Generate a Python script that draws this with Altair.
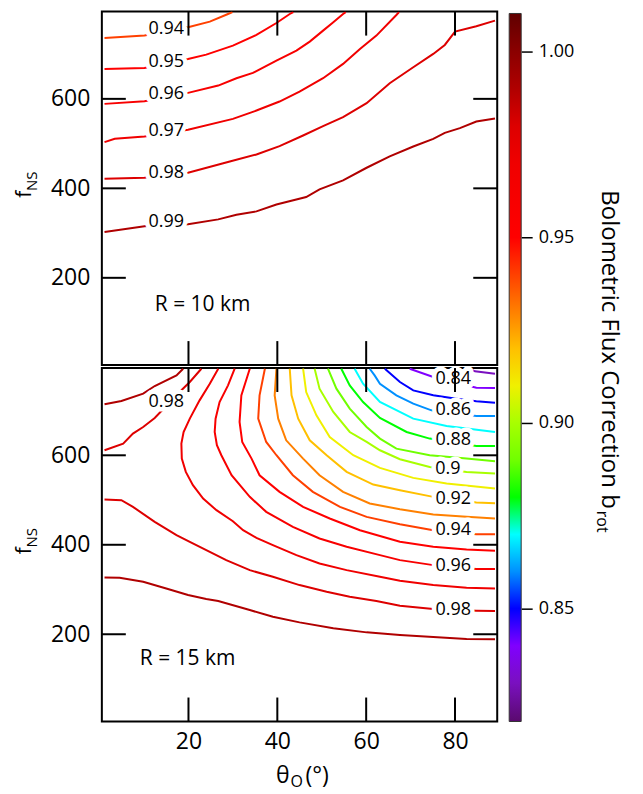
import altair as alt
import pandas as pd

# ---------------- axes ----------------
X_DOMAIN = [0.5, 89.5]
Y_DOMAIN = [5, 795]
X_TICKS = [20, 40, 60, 80]
Y_TICKS = [200, 400, 600]
CB_TICKS = [0.85, 0.90, 0.95, 1.00]
CB_DOMAIN = [0.8196, 1.0108]

# ---------------- colour map ----------------
CMAP_VALS = [0.8196, 0.83, 0.84, 0.85, 0.86, 0.87, 0.88, 0.89, 0.90, 0.91, 0.92,
             0.93, 0.94, 0.95, 0.97, 0.98, 0.99, 1.00, 1.0103]
CMAP_COLS = ["#5a0a6e", "#7a10c0", "#8000ff", "#0000ff", "#0090ff", "#00ffff",
             "#00ff00", "#70ff00", "#a8ff00", "#f0f000", "#ffc000", "#ff8000",
             "#ff4000", "#ff0000", "#f00000", "#dd0000", "#b00000", "#8b0000", "#600000"]

# ---------------- R = 10 km contours ----------------
r10_094_x = [1.1, 10.1, 19.9, 24.8, 28.9, 29.9]
r10_094_y = [736.1, 741.4, 760.0, 772.6, 789.7, 794.0]
r10_095_x = [1.1, 10.1, 19.9, 24.0, 30.0, 35.3, 39.8, 42.8, 43.6]
r10_095_y = [667.0, 669.2, 689.3, 698.9, 719.0, 742.8, 769.6, 789.7, 794.0]
r10_096_x = [1.1, 10.1, 19.9, 26.7, 30.8, 34.5, 39.8, 44.3, 47.3, 50.3, 52.6, 54.8, 55.4]
r10_096_y = [588.8, 594.8, 613.4, 629.7, 646.1, 658.0, 685.6, 707.9, 728.0, 752.5, 771.1, 789.7, 794.0]
r10_097_x = [1.1, 3.4, 10.1, 19.9, 30.0, 35.3, 40.5, 45.0, 50.3, 54.8, 58.6, 62.3, 66.8, 67.4]
r10_097_y = [503.3, 510.7, 515.9, 530.8, 555.3, 573.9, 594.0, 616.4, 646.1, 678.1, 711.6, 741.4, 787.5, 794.0]
r10_098_x = [1.1, 10.1, 19.9, 29.3, 35.3, 40.5, 45.8, 50.3, 54.8, 60.1, 65.3, 70.6, 75.1, 77.7, 80.0, 84.8, 89.0]
r10_098_y = [421.4, 423.6, 434.8, 460.1, 475.7, 494.3, 518.1, 539.0, 559.0, 590.3, 635.0, 670.7, 700.4, 720.5, 750.3, 762.2, 774.8]
r10_099_x = [1.1, 10.1, 19.9, 26.7, 30.8, 35.3, 39.8, 46.5, 49.5, 54.8, 60.1, 65.3, 70.6, 75.1, 77.7, 81.1, 84.8, 89.0]
r10_099_y = [302.4, 315.0, 319.5, 330.6, 341.0, 348.5, 364.0, 380.5, 397.6, 417.7, 446.0, 471.3, 493.6, 510.7, 524.0, 534.5, 549.4, 556.0]

r10_lab_text = ["0.94", "0.95", "0.96", "0.97", "0.98", "0.99"]
r10_lab_x = [15.0, 15.0, 15.0, 15.0, 15.0, 15.0]
r10_lab_y = [756.0, 682.0, 611.0, 529.0, 435.0, 325.0]

# ---------------- R = 15 km contours ----------------
r15_099_x = [1.1, 4.5, 9.8, 15.0, 19.9, 24.0, 26.7, 33.8, 39.0, 45.0, 52.6, 60.1, 67.6, 75.1, 82.6, 89.0]
r15_099_y = [327.0, 326.3, 317.3, 302.4, 287.6, 278.6, 274.2, 254.1, 239.2, 226.5, 213.2, 204.2, 198.3, 193.8, 189.3, 188.8]
r15_098_x = [1.1, 4.9, 7.5, 12.4, 17.3, 20.3, 24.8, 28.5, 33.8, 39.0, 45.0, 51.1, 56.3, 62.3, 67.6, 75.1, 84.8, 89.0]
r15_098_y = [501.1, 499.6, 484.7, 451.3, 421.5, 406.6, 384.3, 365.7, 343.3, 328.5, 309.9, 295.0, 283.8, 274.2, 263.8, 256.3, 252.6, 251.9]
r15_097_x = [26.7, 24.8, 22.5, 20.3, 18.9, 18.4, 18.5, 19.4, 21.0, 23.3, 26.3, 30.0, 32.3, 35.3, 39.0, 44.3, 49.5, 55.6, 63.1, 67.6, 75.1, 82.6, 89.0]
r15_097_y = [793.5, 760.0, 722.8, 681.9, 652.1, 626.1, 592.6, 562.9, 533.1, 503.3, 477.3, 452.7, 432.6, 415.5, 399.2, 376.8, 358.2, 343.3, 328.5, 319.6, 309.9, 303.9, 302.4]
r15_096_x = [30.4, 28.9, 27.0, 26.1, 25.9, 26.4, 27.4, 29.7, 33.8, 37.5, 43.5, 49.5, 55.6, 63.1, 67.6, 75.1, 84.8, 89.0]
r15_096_y = [793.5, 756.3, 719.1, 681.9, 652.1, 622.4, 600.1, 555.4, 507.1, 473.6, 440.1, 414.0, 395.4, 376.8, 365.7, 354.5, 345.6, 345.6]
r15_095_x = [33.8, 31.9, 31.5, 32.1, 34.2, 36.0, 40.5, 45.8, 51.8, 58.6, 67.6, 75.1, 82.6, 89.0]
r15_095_y = [793.5, 734.0, 674.5, 629.8, 592.6, 555.4, 518.2, 484.7, 458.7, 432.6, 406.6, 395.4, 389.5, 386.5]
r15_094_x = [37.2, 36.0, 35.7, 37.5, 39.8, 43.5, 48.0, 54.1, 60.1, 67.6, 75.1, 84.8, 89.0]
r15_094_y = [793.5, 734.0, 681.9, 629.8, 600.1, 555.4, 518.2, 484.7, 462.4, 446.0, 432.6, 423.7, 423.7]
r15_093_x = [39.8, 39.4, 40.2, 42.0, 45.8, 49.5, 54.8, 60.8, 67.6, 75.1, 82.6, 89.0]
r15_093_y = [793.5, 734.0, 681.9, 633.5, 592.6, 555.4, 518.2, 492.2, 479.5, 467.6, 462.4, 458.7]
r15_092_x = [42.8, 43.2, 44.7, 47.3, 51.1, 55.6, 61.6, 67.6, 75.1, 84.8, 89.0]
r15_092_y = [793.5, 734.0, 681.9, 633.5, 600.1, 562.9, 534.6, 521.9, 507.1, 494.4, 492.9]
r15_091_x = [45.8, 46.5, 48.8, 51.8, 57.1, 63.1, 70.6, 78.1, 89.0]
r15_091_y = [793.5, 741.4, 689.3, 641.0, 600.1, 571.8, 549.5, 536.8, 525.7]
r15_090_x = [48.4, 49.5, 52.6, 56.3, 60.1, 63.1, 67.6, 74.3, 82.6, 89.0]
r15_090_y = [793.5, 748.9, 696.8, 652.1, 629.8, 611.2, 591.1, 574.0, 562.9, 559.1]
r15_089_x = [51.4, 53.3, 56.3, 60.1, 63.1, 66.8, 74.3, 82.6, 89.0]
r15_089_y = [793.5, 748.9, 704.2, 663.3, 637.3, 614.9, 600.1, 592.6, 586.7]
r15_088_x = [54.4, 56.3, 59.3, 63.1, 69.1, 74.3, 84.8, 89.0]
r15_088_y = [793.5, 756.3, 719.1, 683.4, 652.1, 637.3, 620.9, 620.9]
r15_087_x = [57.4, 59.3, 63.1, 70.6, 78.1, 89.0]
r15_087_y = [793.5, 760.0, 719.1, 681.9, 665.5, 652.1]
r15_086_x = [60.8, 61.9, 63.1, 66.8, 70.6, 74.7, 84.8, 89.0]
r15_086_y = [793.5, 778.6, 760.0, 734.0, 715.4, 700.5, 687.9, 687.9]
r15_085_x = [64.2, 67.6, 70.6, 75.1, 80.3, 84.8, 89.0]
r15_085_y = [793.5, 763.8, 745.1, 734.0, 726.5, 720.6, 717.6]
r15_084_x = [69.8, 75.1, 84.8, 89.0]
r15_084_y = [793.5, 774.9, 751.1, 750.4]
r15_083_x = [83.3, 84.5, 89.0]
r15_083_y = [793.5, 787.6, 782.4]
# upper-left corner contours
r15_099b_x = [1.1, 4.9, 9.8, 12.4, 17.3, 18.8]
r15_099b_y = [713.9, 721.3, 737.7, 754.8, 778.6, 793.5]
r15_098b_x = [1.1, 5.3, 7.5, 9.8, 12.4, 18.0, 20.3, 22.9]
r15_098b_y = [611.2, 626.1, 648.4, 663.3, 683.4, 741.4, 763.8, 793.5]

r15_lab_text = ["0.98", "0.84", "0.86", "0.88", "0.9", "0.92", "0.94", "0.96", "0.98"]
r15_lab_x = [15.0, 79.6, 79.6, 79.6, 78.4, 79.6, 79.6, 79.6, 79.6]
r15_lab_y = [719.0, 771.0, 700.6, 633.6, 570.2, 503.3, 432.7, 353.0, 254.1]

R10_LINES = [(0.94, r10_094_x, r10_094_y), (0.95, r10_095_x, r10_095_y),
             (0.96, r10_096_x, r10_096_y), (0.97, r10_097_x, r10_097_y),
             (0.98, r10_098_x, r10_098_y), (0.99, r10_099_x, r10_099_y)]
R15_LINES = [(0.99, r15_099_x, r15_099_y), (0.98, r15_098_x, r15_098_y),
             (0.97, r15_097_x, r15_097_y), (0.96, r15_096_x, r15_096_y),
             (0.95, r15_095_x, r15_095_y), (0.94, r15_094_x, r15_094_y),
             (0.93, r15_093_x, r15_093_y), (0.92, r15_092_x, r15_092_y),
             (0.91, r15_091_x, r15_091_y), (0.90, r15_090_x, r15_090_y),
             (0.89, r15_089_x, r15_089_y), (0.88, r15_088_x, r15_088_y),
             (0.87, r15_087_x, r15_087_y), (0.86, r15_086_x, r15_086_y),
             (0.85, r15_085_x, r15_085_y), (0.84, r15_084_x, r15_084_y),
             (0.83, r15_083_x, r15_083_y), (0.99, r15_099b_x, r15_099b_y),
             (0.98, r15_098b_x, r15_098b_y)]

FONT = "Open Sans"
W, H = 396, 354


def lines_frame(lines):
    rows = []
    for seg, (lev, xs, ys) in enumerate(lines):
        for i, (x, y) in enumerate(zip(xs, ys)):
            rows.append({"seg": seg, "lev": lev, "i": i, "x": x, "y": y})
    return pd.DataFrame(rows)


color_enc = alt.Color("lev:Q", scale=alt.Scale(domain=CMAP_VALS, range=CMAP_COLS,
                                               interpolate="rgb"), legend=None)


def txt(s, size, x, y, align="center", angle=0):
    mk = dict(font=FONT, fontSize=size, align=align, baseline="alphabetic", color="black")
    if angle:
        mk["angle"] = angle
    return alt.Chart(pd.DataFrame({"t": [s]})).mark_text(**mk).encode(
        x=alt.value(x), y=alt.value(y), text="t:N")


def panel(lines, lab_text, lab_x, lab_y, r_text, r_xy, bottom):
    if bottom:
        xaxis = alt.Axis(values=X_TICKS, ticks=False, domain=False, grid=False, title=None,
                         labelFont=FONT, labelFontSize=23, labelColor="black", labelPadding=9)
    else:
        xaxis = None
    X = alt.X("x:Q", scale=alt.Scale(domain=X_DOMAIN, nice=False, zero=False), axis=xaxis)
    Y = alt.Y("y:Q", scale=alt.Scale(domain=Y_DOMAIN, nice=False, zero=False),
              axis=alt.Axis(values=Y_TICKS, ticks=False, domain=False, grid=False, title=None,
                            labelFont=FONT, labelFontSize=23, labelColor="black", labelPadding=12))
    ldf = lines_frame(lines)
    labdf = pd.DataFrame({"x": lab_x, "y": lab_y, "t": lab_text})
    yt = pd.DataFrame({"y": Y_TICKS})
    xt = pd.DataFrame({"x": X_TICKS})

    contour = alt.Chart(ldf).mark_line(strokeWidth=2, clip=True).encode(
        x=X, y=Y, color=color_enc, detail="seg:N", order="i:Q")
    halo = alt.Chart(labdf).mark_text(font=FONT, fontSize=18, color="white", stroke="white",
                                      strokeWidth=9, strokeJoin="round").encode(x=X, y=Y, text="t:N")
    lab = alt.Chart(labdf).mark_text(font=FONT, fontSize=18, color="black").encode(
        x=X, y=Y, text="t:N")
    tl = alt.Chart(yt).mark_rule(color="black", strokeWidth=2).encode(
        y=Y, x=alt.value(0), x2=alt.value(24))
    tr = alt.Chart(yt).mark_rule(color="black", strokeWidth=2).encode(
        y=Y, x=alt.value(W - 24), x2=alt.value(W))
    tt = alt.Chart(xt).mark_rule(color="black", strokeWidth=2).encode(
        x=X, y=alt.value(0), y2=alt.value(24))
    tb = alt.Chart(xt).mark_rule(color="black", strokeWidth=2).encode(
        x=X, y=alt.value(H - 24), y2=alt.value(H))
    one = pd.DataFrame({"t": [r_text]})
    rlab = alt.Chart(one).mark_text(font=FONT, fontSize=21, align="left", baseline="middle",
                                    color="black").encode(
        x=alt.value(r_xy[0]), y=alt.value(r_xy[1]), text="t:N")
    f_main = txt("f", 21, -71, 183, angle=270)
    f_sub = txt("NS", 15, -65, 170, angle=270)
    layers = [contour, halo, lab, tl, tr, tt, tb, rlab, f_main, f_sub]
    if bottom:
        layers += [txt("θ", 23, 188, 416, align="right"),
                   txt("O", 16, 189, 420, align="left"),
                   txt("(°)", 23, 204, 416, align="left")]
    return alt.layer(*layers).properties(width=W, height=H)


top = panel(R10_LINES, r10_lab_text, r10_lab_x, r10_lab_y, "R = 10 km", (53, 294), False)
bottom = panel(R15_LINES, r15_lab_text, r15_lab_x, r15_lab_y, "R = 15 km", (38, 291), True)

# ---------------- colour bar ----------------
lo, hi = CMAP_VALS[0], CMAP_VALS[-1]
grad = {"gradient": "linear", "x1": 0, "x2": 0, "y1": 1, "y2": 0,
        "stops": [{"offset": (v - lo) / (hi - lo), "color": c} for v, c in zip(CMAP_VALS, CMAP_COLS)]}
cb_df = pd.DataFrame({"lo": [lo], "hi": [hi]})
cbar = alt.Chart(cb_df).mark_rect(fill=grad, stroke="#333333", strokeWidth=1).encode(
    y=alt.Y("lo:Q", scale=alt.Scale(domain=CB_DOMAIN, nice=False, zero=False),
            axis=alt.Axis(orient="right", values=CB_TICKS, format=".2f", tickSize=11,
                          tickColor="black", tickWidth=1.5, domain=False, grid=False, title=None,
                          labelFont=FONT, labelFontSize=18, labelColor="black", labelPadding=6)),
    y2="hi:Q",
    x=alt.value(0), x2=alt.value(12))
cb_title = txt("Bolometric Flux Correction b", 24, 93, 498, align="right", angle=90)
cb_sub = txt("rot", 16, 88, 500, align="left", angle=90)
colorbar = alt.layer(cbar, cb_title, cb_sub).properties(
    width=12, height=711, view=alt.ViewBackground(strokeOpacity=0))

left = alt.vconcat(top, bottom, spacing=3, bounds="flush").resolve_scale(y="independent")
chart = alt.hconcat(left, colorbar, spacing=9).resolve_scale(y="independent").properties(
    padding={"left": 5, "top": 1, "right": 14, "bottom": 3}
).configure_view(stroke="black", strokeWidth=2)

chart.save("out.html", embed_options={"renderer": "svg", "actions": False})
